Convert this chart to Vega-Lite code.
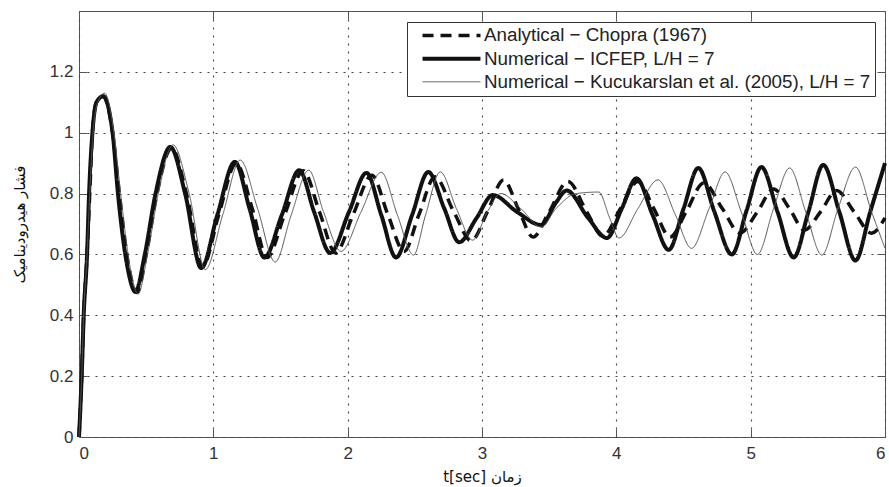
{
  "$schema": "https://vega.github.io/schema/vega-lite/v6.json",
  "width": 806,
  "height": 426,
  "autosize": {"type": "none"},
  "padding": {"left": 79, "top": 11, "right": 4, "bottom": 50},
  "background": "white",
  "config": {
    "view": {"stroke": "#555", "strokeWidth": 1},
    "axis": {
      "labelFont": "Liberation Sans",
      "labelFontSize": 17,
      "labelColor": "#333",
      "titleFont": "DejaVu Sans",
      "titleFontSize": 15,
      "titleFontWeight": "normal",
      "titleColor": "#111",
      "domain": false,
      "tickColor": "#555",
      "tickSize": -8,
      "gridColor": "#444",
      "gridDash": [2, 6],
      "gridWidth": 1.1,
      "gridOpacity": 1
    }
  },
  "datasets": {
    "curves": [
      {"k":"A","t":0,"v":0},{"k":"A","t":0.02,"v":0.2},{"k":"A","t":0.035,"v":0.4},{"k":"A","t":0.06,"v":0.6},{"k":"A","t":0.08,"v":0.8},{"k":"A","t":0.1,"v":1.0},{"k":"A","t":0.13,"v":1.1},{"k":"A","t":0.18,"v":1.12},{"k":"A","t":0.25,"v":1.0},{"k":"A","t":0.30,"v":0.8},{"k":"A","t":0.37,"v":0.56},{"k":"A","t":0.43,"v":0.475},{"k":"A","t":0.50,"v":0.6},{"k":"A","t":0.58,"v":0.8},{"k":"A","t":0.69,"v":0.95},{"k":"A","t":0.80,"v":0.8},{"k":"A","t":0.92,"v":0.56},{"k":"A","t":1.04,"v":0.73},{"k":"A","t":1.17,"v":0.90},{"k":"A","t":1.29,"v":0.75},{"k":"A","t":1.40,"v":0.59},{"k":"A","t":1.53,"v":0.73},{"k":"A","t":1.67,"v":0.875},{"k":"A","t":1.79,"v":0.74},{"k":"A","t":1.91,"v":0.605},{"k":"A","t":2.04,"v":0.73},{"k":"A","t":2.18,"v":0.86},{"k":"A","t":2.30,"v":0.73},{"k":"A","t":2.42,"v":0.61},{"k":"A","t":2.53,"v":0.73},{"k":"A","t":2.65,"v":0.855},{"k":"A","t":2.79,"v":0.74},{"k":"A","t":2.92,"v":0.645},{"k":"A","t":3.04,"v":0.74},{"k":"A","t":3.16,"v":0.845},{"k":"A","t":3.27,"v":0.75},{"k":"A","t":3.38,"v":0.657},{"k":"A","t":3.50,"v":0.74},{"k":"A","t":3.64,"v":0.84},{"k":"A","t":3.78,"v":0.74},{"k":"A","t":3.90,"v":0.66},{"k":"A","t":4.03,"v":0.75},{"k":"A","t":4.16,"v":0.84},{"k":"A","t":4.28,"v":0.75},{"k":"A","t":4.40,"v":0.657},{"k":"A","t":4.52,"v":0.74},{"k":"A","t":4.65,"v":0.835},{"k":"A","t":4.79,"v":0.75},{"k":"A","t":4.92,"v":0.67},{"k":"A","t":5.05,"v":0.74},{"k":"A","t":5.17,"v":0.815},{"k":"A","t":5.29,"v":0.75},{"k":"A","t":5.40,"v":0.68},{"k":"A","t":5.52,"v":0.74},{"k":"A","t":5.64,"v":0.81},{"k":"A","t":5.77,"v":0.74},{"k":"A","t":5.90,"v":0.67},{"k":"A","t":6.0,"v":0.72},
      {"k":"I","t":0,"v":0},{"k":"I","t":0.02,"v":0.2},{"k":"I","t":0.035,"v":0.4},{"k":"I","t":0.06,"v":0.6},{"k":"I","t":0.075,"v":0.8},{"k":"I","t":0.1,"v":1.0},{"k":"I","t":0.13,"v":1.1},{"k":"I","t":0.18,"v":1.12},{"k":"I","t":0.25,"v":1.0},{"k":"I","t":0.29,"v":0.8},{"k":"I","t":0.36,"v":0.56},{"k":"I","t":0.42,"v":0.477},{"k":"I","t":0.49,"v":0.6},{"k":"I","t":0.57,"v":0.8},{"k":"I","t":0.68,"v":0.953},{"k":"I","t":0.79,"v":0.8},{"k":"I","t":0.91,"v":0.555},{"k":"I","t":1.03,"v":0.73},{"k":"I","t":1.16,"v":0.904},{"k":"I","t":1.27,"v":0.75},{"k":"I","t":1.38,"v":0.59},{"k":"I","t":1.51,"v":0.73},{"k":"I","t":1.64,"v":0.877},{"k":"I","t":1.75,"v":0.74},{"k":"I","t":1.87,"v":0.605},{"k":"I","t":2.01,"v":0.74},{"k":"I","t":2.14,"v":0.868},{"k":"I","t":2.25,"v":0.73},{"k":"I","t":2.36,"v":0.59},{"k":"I","t":2.48,"v":0.73},{"k":"I","t":2.60,"v":0.871},{"k":"I","t":2.72,"v":0.75},{"k":"I","t":2.83,"v":0.64},{"k":"I","t":2.96,"v":0.72},{"k":"I","t":3.08,"v":0.795},{"k":"I","t":3.26,"v":0.74},{"k":"I","t":3.44,"v":0.697},{"k":"I","t":3.55,"v":0.77},{"k":"I","t":3.63,"v":0.81},{"k":"I","t":3.79,"v":0.72},{"k":"I","t":3.93,"v":0.654},{"k":"I","t":4.04,"v":0.75},{"k":"I","t":4.15,"v":0.85},{"k":"I","t":4.27,"v":0.73},{"k":"I","t":4.39,"v":0.615},{"k":"I","t":4.50,"v":0.75},{"k":"I","t":4.61,"v":0.884},{"k":"I","t":4.73,"v":0.74},{"k":"I","t":4.86,"v":0.60},{"k":"I","t":4.97,"v":0.745},{"k":"I","t":5.08,"v":0.887},{"k":"I","t":5.20,"v":0.74},{"k":"I","t":5.32,"v":0.59},{"k":"I","t":5.43,"v":0.74},{"k":"I","t":5.54,"v":0.894},{"k":"I","t":5.66,"v":0.74},{"k":"I","t":5.78,"v":0.58},{"k":"I","t":5.89,"v":0.74},{"k":"I","t":6.0,"v":0.9},
      {"k":"K","t":0,"v":0},{"k":"K","t":0.02,"v":0.2},{"k":"K","t":0.035,"v":0.4},{"k":"K","t":0.06,"v":0.6},{"k":"K","t":0.08,"v":0.8},{"k":"K","t":0.105,"v":1.0},{"k":"K","t":0.14,"v":1.1},{"k":"K","t":0.19,"v":1.13},{"k":"K","t":0.26,"v":1.0},{"k":"K","t":0.31,"v":0.8},{"k":"K","t":0.38,"v":0.56},{"k":"K","t":0.44,"v":0.47},{"k":"K","t":0.51,"v":0.6},{"k":"K","t":0.59,"v":0.8},{"k":"K","t":0.70,"v":0.96},{"k":"K","t":0.82,"v":0.8},{"k":"K","t":0.94,"v":0.55},{"k":"K","t":1.07,"v":0.73},{"k":"K","t":1.20,"v":0.91},{"k":"K","t":1.33,"v":0.75},{"k":"K","t":1.46,"v":0.575},{"k":"K","t":1.58,"v":0.73},{"k":"K","t":1.71,"v":0.877},{"k":"K","t":1.82,"v":0.74},{"k":"K","t":1.95,"v":0.61},{"k":"K","t":2.10,"v":0.74},{"k":"K","t":2.25,"v":0.87},{"k":"K","t":2.37,"v":0.73},{"k":"K","t":2.49,"v":0.598},{"k":"K","t":2.58,"v":0.73},{"k":"K","t":2.69,"v":0.871},{"k":"K","t":2.81,"v":0.75},{"k":"K","t":2.93,"v":0.647},{"k":"K","t":3.04,"v":0.74},{"k":"K","t":3.14,"v":0.80},{"k":"K","t":3.29,"v":0.75},{"k":"K","t":3.44,"v":0.69},{"k":"K","t":3.55,"v":0.75},{"k":"K","t":3.70,"v":0.80},{"k":"K","t":3.87,"v":0.805},{"k":"K","t":3.95,"v":0.72},{"k":"K","t":4.02,"v":0.654},{"k":"K","t":4.16,"v":0.75},{"k":"K","t":4.31,"v":0.845},{"k":"K","t":4.44,"v":0.73},{"k":"K","t":4.56,"v":0.62},{"k":"K","t":4.69,"v":0.75},{"k":"K","t":4.81,"v":0.871},{"k":"K","t":4.93,"v":0.74},{"k":"K","t":5.05,"v":0.60},{"k":"K","t":5.17,"v":0.75},{"k":"K","t":5.29,"v":0.884},{"k":"K","t":5.41,"v":0.74},{"k":"K","t":5.53,"v":0.598},{"k":"K","t":5.65,"v":0.75},{"k":"K","t":5.78,"v":0.887},{"k":"K","t":5.90,"v":0.74},{"k":"K","t":6.0,"v":0.62}
    ]
  },
  "data": {"name": "curves"},
  "layer": [
    {
      "mark": {"type": "line", "interpolate": "monotone", "strokeCap": "butt", "strokeJoin": "round"},
      "encoding": {
        "x": {
          "field": "t", "type": "quantitative",
          "scale": {"domain": [0, 6], "nice": false, "zero": false},
          "axis": {"orient": "bottom", "values": [0, 1, 2, 3, 4, 5, 6], "title": "t[sec] زمان", "grid": true, "labelPadding": 16, "titlePadding": 8}
        },
        "y": {
          "field": "v", "type": "quantitative",
          "scale": {"domain": [0, 1.4], "nice": false, "zero": false},
          "axis": {"orient": "left", "values": [0, 0.2, 0.4, 0.6, 0.8, 1, 1.2], "format": "~g", "title": "فشار هیدرودینامیک", "grid": true, "labelPadding": 14, "titlePadding": 22}
        },
        "color": {
          "field": "k", "type": "nominal",
          "scale": {"domain": ["A", "I", "K"], "range": ["#111111", "#111111", "#555555"]},
          "legend": {
            "title": null,
            "orient": "none",
            "legendX": 328,
            "legendY": 11,
            "symbolType": "M-4,0L4,0",
            "symbolSize": 210,
            "symbolOffset": 31,
            "labelFont": "Liberation Sans",
            "labelFontSize": 18.8,
            "labelColor": "#222",
            "labelOffset": 23,
            "labelLimit": 0,
            "rowPadding": 3.2,
            "padding": 4,
            "fillColor": "white",
            "strokeColor": "#333",
            "labelExpr": "datum.value == 'A' ? 'Analytical − Chopra (1967)' : datum.value == 'I' ? 'Numerical − ICFEP, L/H = 7' : 'Numerical − Kucukarslan et al. (2005), L/H = 7'"
          }
        },
        "strokeWidth": {
          "field": "k", "type": "nominal",
          "scale": {"type": "ordinal", "domain": ["A", "I", "K"], "range": [3.5, 4, 1]}
        },
        "strokeDash": {
          "field": "k", "type": "nominal",
          "scale": {"domain": ["A", "I", "K"], "range": [[11, 7], [1, 0], [1, 0]]}
        }
      }
    },
    {
      "mark": {"type": "point", "opacity": 0},
      "encoding": {
        "x": {
          "field": "t", "type": "quantitative",
          "axis": {"orient": "top", "values": [0, 1, 2, 3, 4, 5, 6], "labels": false, "title": null, "grid": false}
        },
        "y": {
          "field": "v", "type": "quantitative",
          "axis": {"orient": "right", "values": [0, 0.2, 0.4, 0.6, 0.8, 1, 1.2], "labels": false, "title": null, "grid": false}
        }
      }
    }
  ],
  "resolve": {"axis": {"x": "independent", "y": "independent"}}
}
